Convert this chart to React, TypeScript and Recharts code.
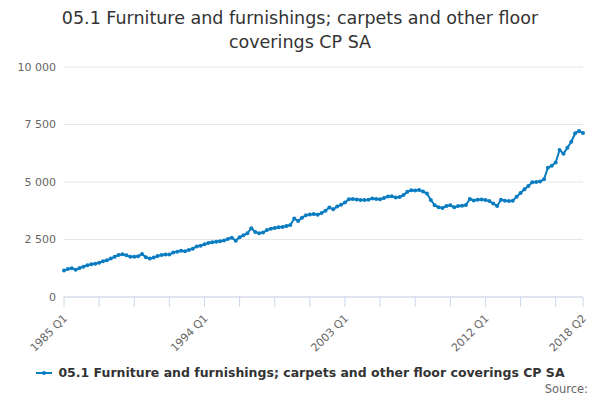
import { LineChart, Line, XAxis, YAxis, CartesianGrid } from "recharts";

const seriesName = "05.1 Furniture and furnishings; carpets and other floor coverings CP SA";

// quarterly values, 1985 Q1 .. 2018 Q2
const values = [
  1150, 1220, 1250, 1190, 1260, 1320, 1380, 1420, 1450, 1490, 1550, 1600, 1670, 1750, 1830, 1860,
  1810, 1750, 1750, 1770, 1870, 1725, 1670, 1720, 1780, 1830, 1850, 1850, 1930, 1970, 2010, 1990,
  2040, 2100, 2200, 2230, 2290, 2350, 2380, 2400, 2420, 2460, 2520, 2580, 2450, 2600, 2680, 2770,
  2990, 2830, 2770, 2800, 2910, 2970, 3000, 3030, 3040, 3090, 3130, 3410, 3300, 3450, 3550, 3590,
  3610, 3580, 3650, 3750, 3890, 3820, 3930, 4010, 4110, 4250, 4260, 4240, 4220, 4220, 4230, 4280,
  4260, 4250, 4300, 4370, 4380, 4330, 4350, 4430, 4580, 4640, 4630, 4650, 4590, 4500, 4220, 3990,
  3900, 3870, 3960, 3990, 3900, 3960, 3970, 4000, 4260, 4200, 4230, 4240, 4220, 4170, 4060, 3960,
  4230, 4190, 4170, 4190, 4360, 4520, 4680, 4830, 4990, 5000, 5020, 5120, 5620, 5710, 5850, 6390,
  6230, 6490, 6750, 7120, 7220, 7130,
];

const quarters = values.map((_, i) => `${1985 + Math.floor(i / 4)} Q${(i % 4) + 1}`);

const labelledTicks = ["1985 Q1", "1994 Q1", "2003 Q1", "2012 Q1", "2018 Q2"];
const yTicks = [0, 2500, 5000, 7500, 10000];

const data = quarters.map((q, i) => ({ quarter: q, value: values[i] }));

// a tick mark every 9 quarters, plus the last one
const xTicks = quarters.filter((_, i) => i % 9 === 0 || i === quarters.length - 1);

const font = "'DejaVu Sans', Verdana, sans-serif";
const blue = "#0a7cc1";

const fmt = (v: number) =>
  v >= 1000 ? `${Math.floor(v / 1000)} ${String(v % 1000).padStart(3, "0")}` : String(v);

function XTick({ x, y, payload }: any) {
  if (!labelledTicks.includes(payload.value)) return null;
  const tx = x + 4;
  const ty = y + 10;
  return (
    <text
      x={tx}
      y={ty}
      transform={`rotate(-45 ${tx} ${ty})`}
      textAnchor="end"
      fontSize={11}
      fill="#666"
      fontFamily={font}
    >
      {payload.value}
    </text>
  );
}

export default function App() {
  return (
    <div style={{ position: "absolute", left: 0, top: 0, width: 600, height: 400, background: "#fff" }}>
      <div
        style={{
          position: "absolute",
          top: 6,
          left: 40,
          width: 520,
          textAlign: "center",
          fontFamily: font,
          fontSize: 17.5,
          lineHeight: "24px",
          color: "#333",
        }}
      >
        {seriesName}
      </div>
      <LineChart
        width={600}
        height={400}
        data={data}
        margin={{ top: 67, right: 17, left: 8, bottom: 43 }}
      >
        <CartesianGrid vertical={false} stroke="#e6e6e6" />
        <XAxis
          dataKey="quarter"
          ticks={xTicks}
          interval={0}
          tick={<XTick />}
          tickSize={10}
          height={60}
          axisLine={{ stroke: "#ccd6eb" }}
          tickLine={{ stroke: "#ccd6eb" }}
        />
        <YAxis
          domain={[0, 10000]}
          ticks={yTicks}
          width={56}
          axisLine={false}
          tickLine={false}
          tickFormatter={fmt}
          tick={{ fontSize: 11, fill: "#666", fontFamily: font }}
        />
        <Line
          type="linear"
          dataKey="value"
          name={seriesName}
          stroke={blue}
          strokeWidth={2}
          dot={{ r: 2, fill: blue, stroke: blue, strokeWidth: 0 }}
          activeDot={false}
          isAnimationActive={false}
        />
      </LineChart>
      <div
        style={{
          position: "absolute",
          top: 365,
          left: 0,
          width: 600,
          display: "flex",
          justifyContent: "center",
          alignItems: "center",
          fontFamily: font,
          fontSize: 12.5,
          fontWeight: "bold",
          color: "#333",
        }}
      >
        <svg width={18} height={10} style={{ marginRight: 5 }}>
          <line x1={1} y1={5} x2={17} y2={5} stroke={blue} strokeWidth={2} />
          <circle cx={9} cy={5} r={2} fill={blue} />
        </svg>
        {seriesName}
      </div>
      <div
        style={{
          position: "absolute",
          right: 12,
          top: 382,
          fontFamily: font,
          fontSize: 11.5,
          color: "#666",
        }}
      >
        Source:
      </div>
    </div>
  );
}
